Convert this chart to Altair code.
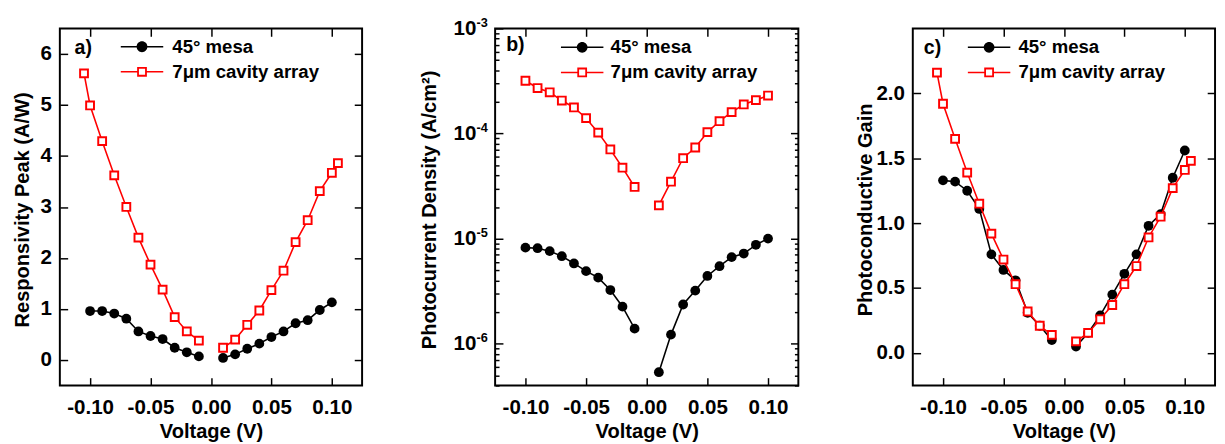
import altair as alt
import pandas as pd

FONT = "Liberation Sans"
SERIES = ["45° mesa", "7μm cavity array"]

# ---------------- data ----------------
V_BLACK = [-0.10, -0.09, -0.08, -0.07, -0.06, -0.05, -0.04, -0.03, -0.02, -0.01,
           0.01, 0.02, 0.03, 0.04, 0.05, 0.06, 0.07, 0.08, 0.09, 0.10]
V_RED_AC = [-0.105, -0.10, -0.09, -0.08, -0.07, -0.06, -0.05, -0.04, -0.03, -0.02, -0.01,
            0.01, 0.02, 0.03, 0.04, 0.05, 0.06, 0.07, 0.08, 0.09, 0.10, 0.105]
V_RED_B = [-0.10, -0.09, -0.08, -0.07, -0.06, -0.05, -0.04, -0.03, -0.02, -0.01,
           0.01, 0.02, 0.03, 0.04, 0.05, 0.06, 0.07, 0.08, 0.09, 0.10]

RESP_BLACK = [0.96, 0.96, 0.91, 0.81, 0.56, 0.47, 0.41, 0.24, 0.15, 0.07,
              0.04, 0.11, 0.22, 0.32, 0.45, 0.56, 0.72, 0.78, 0.98, 1.13]
RESP_RED = [5.62, 4.99, 4.29, 3.62, 3.00, 2.40, 1.87, 1.38, 0.84, 0.56, 0.38,
            0.24, 0.40, 0.69, 0.97, 1.37, 1.75, 2.31, 2.74, 3.31, 3.67, 3.86]

DENS_BLACK = [8.2e-6, 8.1e-6, 7.6e-6, 6.8e-6, 5.8e-6, 4.9e-6, 4.25e-6, 3.24e-6, 2.25e-6, 1.39e-6,
              5.35e-7, 1.22e-6, 2.36e-6, 3.2e-6, 4.41e-6, 5.46e-6, 6.66e-6, 7.21e-6, 8.73e-6, 1.0e-5]
DENS_RED = [3.18e-4, 2.71e-4, 2.47e-4, 2.06e-4, 1.77e-4, 1.40e-4, 1.02e-4, 7.05e-5, 4.73e-5, 3.10e-5,
            2.07e-5, 3.48e-5, 5.82e-5, 7.36e-5, 1.03e-4, 1.31e-4, 1.60e-4, 1.89e-4, 2.08e-4, 2.30e-4]

GAIN_BLACK = [1.33, 1.32, 1.25, 1.11, 0.76, 0.64, 0.56, 0.31, 0.21, 0.10,
              0.05, 0.155, 0.29, 0.45, 0.61, 0.76, 0.98, 1.07, 1.35, 1.56]
GAIN_RED = [2.16, 1.92, 1.65, 1.39, 1.15, 0.92, 0.72, 0.53, 0.32, 0.21, 0.14,
            0.09, 0.155, 0.26, 0.37, 0.53, 0.67, 0.89, 1.05, 1.27, 1.41, 1.48]

PANEL_TAGS = ["a)", "b)", "c)"]
Y_TITLES = ["Responsivity Peak (A/W)", "Photocurrent Density (A/cm²)", "Photoconductive Gain"]
X_TITLE = "Voltage (V)"

X_TICKS = [-0.10, -0.05, 0.0, 0.05, 0.10]
X_TICK_LABELS = ["-0.10", "-0.05", "0.00", "0.05", "0.10"]
YA_TICKS = [0, 1, 2, 3, 4, 5, 6]
YA_LABELS = ["0", "1", "2", "3", "4", "5", "6"]
YB_TICKS = [1e-6, 1e-5, 1e-4, 1e-3]
YB_BASE = ["10", "10", "10", "10"]
YB_EXP = ["-6", "-5", "-4", "-3"]
YB_MINOR = [4e-7, 5e-7, 6e-7, 7e-7, 8e-7, 9e-7,
            2e-6, 3e-6, 4e-6, 5e-6, 6e-6, 7e-6, 8e-6, 9e-6,
            2e-5, 3e-5, 4e-5, 5e-5, 6e-5, 7e-5, 8e-5, 9e-5,
            2e-4, 3e-4, 4e-4, 5e-4, 6e-4, 7e-4, 8e-4, 9e-4]
YC_TICKS = [0.0, 0.5, 1.0, 1.5, 2.0]
YC_LABELS = ["0.0", "0.5", "1.0", "1.5", "2.0"]

# legend symbols (fill-only outlines): line with marker, unit coordinates
PATH_CIRCLE = ("M-4.14,-0.15L-1,-0.15L-1,0.15L-4.14,0.15Z"
               "M1,-0.15L4.14,-0.15L4.14,0.15L1,0.15Z"
               "M-1.05,0A1.05,1.05,0,1,1,1.05,0A1.05,1.05,0,1,1,-1.05,0Z")
PATH_SQUARE = ("M-4.14,-0.15L-0.95,-0.15L-0.95,0.15L-4.14,0.15Z"
               "M0.95,-0.15L4.14,-0.15L4.14,0.15L0.95,0.15Z"
               "M-0.95,-0.95L0.95,-0.95L0.95,0.95L-0.95,0.95Z"
               "M-0.6,-0.6L-0.6,0.6L0.6,0.6L0.6,-0.6Z")

H = 365
TICK = 8


def arr_expr(labels, index_expr):
    return "[" + ",".join("'" + s + "'" for s in labels) + "][" + index_expr + "]"


def sdf(volts, vals):
    return pd.DataFrame({"v": volts, "y": vals,
                         "branch": ["neg" if v < 0 else "pos" for v in volts]})


def x_enc(axis):
    return alt.X("v:Q", scale=alt.Scale(domain=[-0.125, 0.125], nice=False, zero=False), axis=axis)


def x_bottom(w):
    return alt.Axis(orient="bottom", values=X_TICKS,
                    labelExpr=arr_expr(X_TICK_LABELS, "round(datum.value/0.05)+2"),
                    offset=-TICK, tickSize=TICK, labelPadding=11.5,
                    title=X_TITLE, titleX=w / 2, titleY=60.7, titleAlign="center",
                    titleBaseline="alphabetic", titleAngle=0)


X_TOP = alt.Axis(orient="top", values=X_TICKS, offset=-TICK, tickSize=TICK, labels=False, title=None)


def y_left(values, expr, title, tx, pad):
    return alt.Axis(orient="left", values=values, labelExpr=expr, offset=-TICK, tickSize=TICK,
                    labelPadding=pad, title=title, titleX=tx, titleY=185, titleAngle=270,
                    titleAlign="center", titleBaseline="middle")


def y_right(values, size=TICK):
    return alt.Axis(orient="right", values=values, offset=-size, tickSize=size, labels=False, title=None)


def y_left_minor(values, size=4):
    return alt.Axis(orient="left", values=values, offset=-size, tickSize=size, labels=False, title=None)


def legend_layer(name, path, color, lx, ly, loff):
    df = pd.DataFrame({"series": [name]})
    leg = alt.Legend(title=None, orient="none", legendX=lx, legendY=ly, padding=0,
                     labelOffset=loff, labelFont=FONT, labelFontSize=19, labelFontWeight="bold",
                     labelColor="black", labelLimit=400, symbolSize=110, symbolStrokeWidth=0,
                     symbolFillColor=color, symbolOpacity=1)
    return alt.Chart(df).transform_filter("false").mark_point(
        filled=True, fill=color, strokeWidth=0, size=110, opacity=1
    ).encode(shape=alt.Shape("series:N", scale=alt.Scale(domain=[name], range=[path]), legend=leg))


def panel(idx, w, black, red, yscale, axes, leg_pos, tag_dx, tag_dy):
    bdf = sdf(*black)
    rdf = sdf(*red)

    def y_enc(axis):
        return alt.Y("y:Q", scale=yscale, axis=axis)

    layers = [
        alt.Chart(bdf).mark_line(color="black", strokeWidth=1.6).encode(
            x=x_enc(x_bottom(w)), y=y_enc(axes["main"]), detail="branch:N"),
        alt.Chart(bdf).mark_point(filled=True, shape="circle", color="black", size=100, opacity=1).encode(
            x=x_enc(X_TOP), y=y_enc(axes["right"])),
        alt.Chart(rdf).mark_line(color="red", strokeWidth=1.6).encode(
            x=x_enc(None), y=y_enc(axes.get("minor_left")), detail="branch:N"),
        alt.Chart(rdf).mark_point(filled=True, shape="square", fill="white", stroke="red",
                                  strokeWidth=2, size=64, opacity=1).encode(
            x=x_enc(None), y=y_enc(axes.get("minor_right"))),
    ]
    if "exp" in axes:
        layers.append(alt.Chart(bdf).mark_point(opacity=0).encode(
            x=x_enc(None), y=y_enc(axes["exp"])))
    lx, ly1, ly2, loff = leg_pos
    layers.append(legend_layer(SERIES[0], PATH_CIRCLE, "black", lx, ly1, loff))
    layers.append(legend_layer(SERIES[1], PATH_SQUARE, "red", lx, ly2, loff))

    return alt.layer(*layers).resolve_axis(x="independent", y="independent").resolve_scale(
        shape="independent").properties(
        width=w, height=H,
        title=alt.TitleParams(text=PANEL_TAGS[idx], anchor="start", frame="group", orient="top",
                              offset=-18, dx=tag_dx, dy=tag_dy, baseline="alphabetic", font=FONT,
                              fontSize=20, fontWeight="bold", color="black"))


# panel a
scale_a = alt.Scale(domain=[-0.5, 6.5], nice=False, zero=False)
axes_a = {
    "main": y_left(YA_TICKS, arr_expr(YA_LABELS, "round(datum.value)"), Y_TITLES[0], -46, 8.5),
    "right": y_right(YA_TICKS),
}
pa = panel(0, 309, (V_BLACK, RESP_BLACK), (V_RED_AC, RESP_RED), scale_a, axes_a,
           (74.5, 9.2, 34.8, 21.5), 15, 29)

# panel b
scale_b = alt.Scale(type="log", domain=[4e-7, 1e-3], nice=False)
axes_b = {
    "main": y_left(YB_TICKS, arr_expr(YB_BASE, "round(log(datum.value)/LN10)+6"), Y_TITLES[1], -74.5, 19.6),
    "right": y_right(YB_TICKS),
    "minor_left": y_left_minor(YB_MINOR),
    "minor_right": y_right(YB_MINOR, 4),
    "exp": alt.Axis(orient="left", values=YB_TICKS, ticks=False, tickSize=0, offset=0,
                    labelPadding=8, labelFontSize=13, labelOffset=-6,
                    labelExpr=arr_expr(YB_EXP, "round(log(datum.value)/LN10)+6"), title=None),
}
pb = panel(1, 310, (V_BLACK, DENS_BLACK), (V_RED_B, DENS_RED), scale_b, axes_b,
           (79.5, 9.8, 35.5, 19.5), 11.3, 37.5)

# panel c
scale_c = alt.Scale(domain=[-0.25, 2.5], nice=False, zero=False)
axes_c = {
    "main": y_left(YC_TICKS, arr_expr(YC_LABELS, "round(datum.value*2)"), Y_TITLES[2], -55.75, 8.5),
    "right": y_right(YC_TICKS),
}
pc = panel(2, 309, (V_BLACK, GAIN_BLACK), (V_RED_AC, GAIN_RED), scale_c, axes_c,
           (68.5, 9.8, 35.5, 20.5), 11.3, 29)

chart = alt.hconcat(pa, pb, pc, spacing=56).resolve_scale(shape="independent").properties(
    padding={"left": 4, "top": 3, "right": 0, "bottom": 0}
).configure(background="white").configure_view(stroke="black", strokeWidth=2).configure_axis(
    labelFont=FONT, titleFont=FONT, labelFontWeight="bold", titleFontWeight="bold",
    labelFontSize=21, titleFontSize=20.5, labelColor="black", titleColor="black",
    tickColor="black", tickWidth=1.5, grid=False, domain=False, labelFlush=False,
    labelOverlap=False
)

chart.save("out.html", embed_options={"renderer": "svg", "actions": False})
